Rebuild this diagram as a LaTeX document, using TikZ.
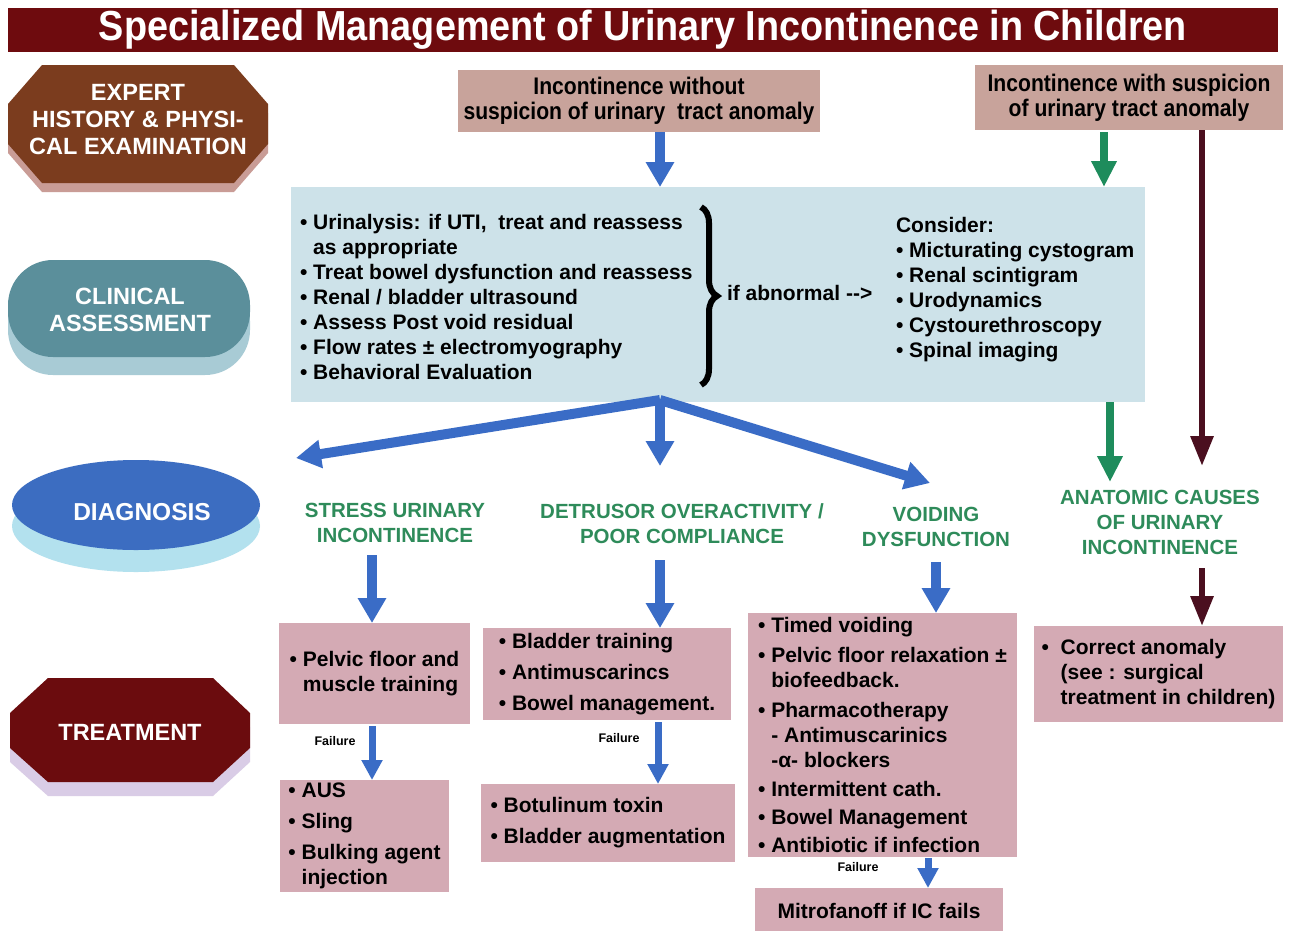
\documentclass[tikz,border=0pt]{standalone}
\usepackage{fontspec}
\setmainfont{Liberation Sans}
\newfontfamily\narrowfont[FakeStretch=0.88]{Liberation Sans}
\newfontfamily\titlefont[FakeStretch=0.9]{Liberation Sans}
\usetikzlibrary{arrows.meta,decorations.pathreplacing}
\definecolor{titlered}{RGB}{110,11,14}
\definecolor{brownlbl}{RGB}{123,60,30}
\definecolor{brownsh}{RGB}{201,156,150}
\definecolor{teallbl}{RGB}{91,143,155}
\definecolor{tealsh}{RGB}{168,203,213}
\definecolor{bluelbl}{RGB}{60,109,193}
\definecolor{bluesh}{RGB}{179,225,238}
\definecolor{treatred}{RGB}{107,12,14}
\definecolor{treatsh}{RGB}{217,204,230}
\definecolor{tanbox}{RGB}{200,163,155}
\definecolor{assessbox}{RGB}{205,226,233}
\definecolor{pinkbox}{RGB}{212,170,180}
\definecolor{diaggreen}{RGB}{46,139,90}
\definecolor{arrowgreen}{RGB}{30,140,92}
\definecolor{arrowblue}{RGB}{58,108,198}
\definecolor{maroon}{RGB}{75,15,31}
\newcommand\ind{\phantom{•\ }}
\begin{document}
\begin{tikzpicture}[x=1pt,y=-1pt,
  every node/.style={inner sep=0pt, outer sep=0pt},
  lbl/.style={text=white, align=center, font=\bfseries\fontsize{23.5}{27}\selectfont},
  topbox/.style={fill=tanbox, anchor=north west, align=center, font=\narrowfont\bfseries\fontsize{24}{25}\selectfont},
  pbox/.style={fill=pinkbox, anchor=north west, align=left, font=\bfseries\fontsize{21}{25}\selectfont},
  body/.style={anchor=west, align=left, font=\bfseries\fontsize{21}{25}\selectfont},
  diag/.style={text=diaggreen, align=center, font=\bfseries\fontsize{20.5}{25}\selectfont},
  fail/.style={font=\bfseries\fontsize{12.5}{14}\selectfont},
  barrow/.style={draw=arrowblue, line width=10pt, -{Triangle[width=27pt,length=25pt]}},
  sarrow/.style={draw=arrowblue, line width=7pt, -{Triangle[width=20pt,length=20pt]}},
  garrow/.style={draw=arrowgreen, line width=8pt, -{Triangle[width=24pt,length=26pt]}},
  marrow/.style={draw=maroon, line width=6pt, -{Triangle[width=22pt,length=30pt]}},
]
\useasboundingbox (0,0) rectangle (1290,930);
\fill[white] (0,0) rectangle (1290,930);

% title
\node[fill=titlered, minimum width=1270, minimum height=44, anchor=north west,
  text=white, font=\titlefont\bfseries\fontsize{42}{44}\selectfont] (title) at (8,8)
  {Specialized Management of Urinary Incontinence in Children};

% left labels
\fill[brownsh] (42,74)--(234,74)--(268,113)--(268,153)--(234,192)--(42,192)--(8,153)--(8,113)--cycle;
\fill[brownlbl] (42,65)--(234,65)--(268,104)--(268,144)--(234,183)--(42,183)--(8,144)--(8,104)--cycle;
\node[lbl] (expert) at (138,120) {EXPERT\\HISTORY \& PHYSI-\\CAL EXAMINATION};

\fill[tealsh, rounded corners=45pt] (8,276) rectangle (250,375);
\fill[teallbl, rounded corners=45pt] (8,260) rectangle (250,357);
\node[lbl] (clinical) at (130,310) {CLINICAL\\ASSESSMENT};

\fill[bluesh] (136,526) ellipse [x radius=124, y radius=46];
\fill[bluelbl] (136,505) ellipse [x radius=124, y radius=45];
\node[lbl, font=\bfseries\fontsize{24.5}{27}\selectfont] (diagnosis) at (142,512) {DIAGNOSIS};

\fill[treatsh] (48,692)--(213,692)--(250,727)--(250,762)--(213,796)--(48,796)--(10,762)--(10,727)--cycle;
\fill[treatred] (48,678)--(213,678)--(250,713)--(250,748)--(213,782)--(48,782)--(10,748)--(10,713)--cycle;
\node[lbl] (treatment) at (130,732) {TREATMENT};

% top boxes
\node[topbox, minimum width=362, minimum height=62] (top1) at (458,70)
  {Incontinence without\\suspicion of urinary\ \ tract anomaly};
\node[topbox, minimum width=308, minimum height=65] (top2) at (975,65)
  {Incontinence with suspicion\\of urinary tract anomaly};

% assessment box
\node[fill=assessbox, anchor=north west, minimum width=854, minimum height=215] (assess) at (291,187) {};
\node[body] (tests) at (300,297)
  {• Urinalysis: if UTI,\ \ treat and reassess\\
   \ind as appropriate\\
   • Treat bowel dysfunction and reassess\\
   • Renal / bladder ultrasound\\
   • Assess Post void residual\\
   • Flow rates ± electromyography\\
   • Behavioral Evaluation};
\coordinate (bracetop) at (701,207);
\coordinate (bracebot) at (701,385);
\draw[decorate, decoration={brace, amplitude=16pt}, line width=6pt] (bracetop) -- (bracebot);
\node[body] (ifabn) at (727,293) {if abnormal -{}-{}>};
\node[body] (consider) at (896,290)
  {Consider:\\
   • Micturating cystogram\\
   • Renal scintigram\\
   • Urodynamics\\
   • Cystourethroscopy\\
   • Spinal imaging};

% diagnosis labels
\node[diag] (stress) at (395,523) {STRESS URINARY\\INCONTINENCE};
\node[diag] (detrusor) at (682,524) {DETRUSOR OVERACTIVITY /\\POOR COMPLIANCE};
\node[diag] (voiding) at (936,527) {VOIDING\\DYSFUNCTION};
\node[diag] (anat) at (1160,522) {ANATOMIC CAUSES\\OF URINARY\\INCONTINENCE};

% treatment boxes
\node[pbox, minimum width=191, minimum height=101] (pelvic) at (279,623)
  {• Pelvic floor and\\ \ind muscle training};
\node[pbox, minimum width=248, minimum height=92] (bladder) at (483,628)
  {• Bladder training\\[6pt] • Antimuscarincs\\[6pt] • Bowel management.};
\node[pbox, minimum width=269, minimum height=244] (voidtx) at (748,613)
  {• Timed voiding\\[5pt]
   • Pelvic floor relaxation ±\\
   \ind biofeedback.\\[5pt]
   • Pharmacotherapy\\
   \ind - Antimuscarinics\\
   \ind -α- blockers\\[4pt]
   • Intermittent cath.\\[3pt]
   • Bowel Management\\[3pt]
   • Antibiotic if infection};
\node[pbox, minimum width=249, minimum height=96] (correct) at (1034,626)
  {•\ \ Correct anomaly\\
   \phantom{•\ \ }(see : surgical\\
   \phantom{•\ \ }treatment in children)};
\node[pbox, minimum width=169, minimum height=112] (aus) at (280,780)
  {• AUS\\[6pt] • Sling\\[6pt] • Bulking agent\\ \ind injection};
\node[pbox, minimum width=254, minimum height=78] (botox) at (481,784)
  {• Botulinum toxin\\[6pt] • Bladder augmentation};
\node[pbox, minimum width=248, minimum height=45] (mitro) at (755,888)
  {Mitrofanoff if IC fails};

% failure labels
\node[fail] (f1) at (335,741) {Failure};
\node[fail] (f2) at (619,738) {Failure};
\node[fail] (f3) at (858,867) {Failure};

% arrows
\coordinate (a1) at (660,132);
\draw[barrow] (a1) -- (a1 |- assess.north);
\coordinate (g1) at (1104,132);
\draw[garrow] (g1) -- (g1 |- assess.north);
\coordinate (m1) at (1202,130);
\coordinate (mtip) at (1202,466);
\draw[marrow] (m1) -- (mtip);
\coordinate (gtip) at (1110,482);
\draw[garrow] (gtip |- assess.south) -- (gtip);

\coordinate (src) at (660,400);
\coordinate (ltip) at (296,458);
\coordinate (mdtip) at (660,466);
\coordinate (rtip) at (930,483);
\draw[barrow] (src) -- (ltip);
\draw[barrow] (src) -- (rtip);
\draw[barrow] (src) -- (mdtip);

\coordinate (d1) at (372,555);
\draw[barrow] (d1) -- (d1 |- pelvic.north);
\coordinate (d2) at (660,560);
\draw[barrow] (d2) -- (d2 |- bladder.north);
\coordinate (d3) at (936,562);
\draw[barrow] (d3) -- (d3 |- voidtx.north);
\coordinate (d4) at (1202,568);
\draw[marrow] (d4) -- (d4 |- correct.north);

\coordinate (e1) at (372,726);
\draw[sarrow] (e1) -- (e1 |- aus.north);
\coordinate (e2) at (658,722);
\draw[sarrow] (e2) -- (e2 |- botox.north);
\coordinate (e3) at (928,858);
\draw[sarrow] (e3) -- (e3 |- mitro.north);
\end{tikzpicture}
\end{document}
